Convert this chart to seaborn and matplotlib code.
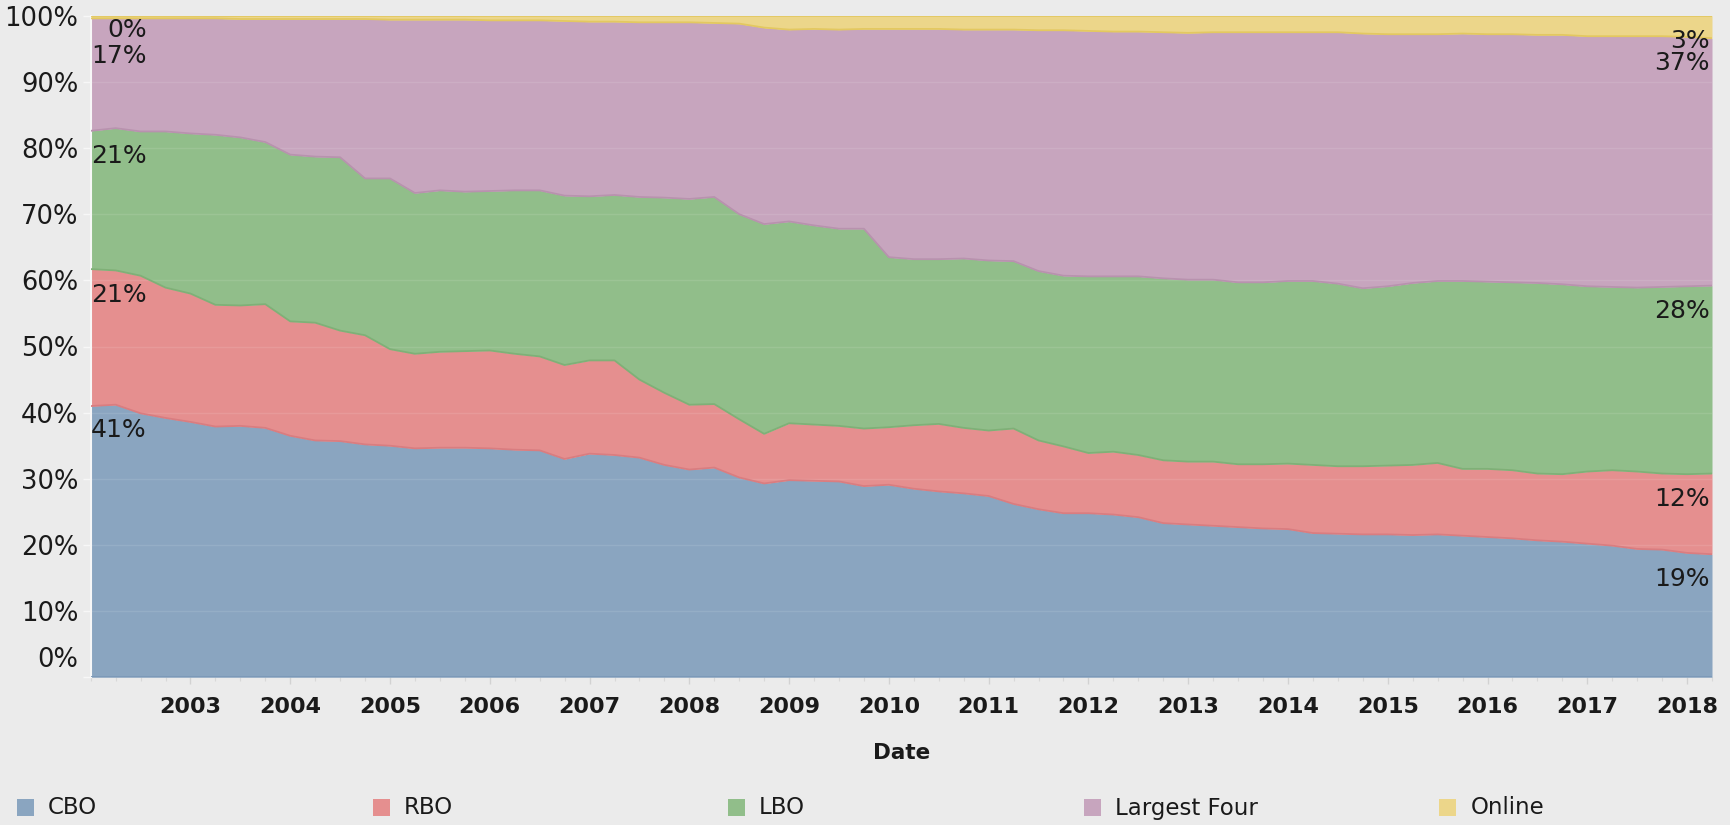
import numpy as np
import pandas as pd
import matplotlib
matplotlib.use("Agg")
import matplotlib.pyplot as plt
import seaborn as sns
from matplotlib.patches import Rectangle
from matplotlib.transforms import ScaledTranslation

# ---------------- data (share of total, %), quarterly 2002 Q1 .. 2018 Q2 ----------------
quarters = pd.period_range("2002Q1", "2018Q2", freq="Q")
categories = ["CBO", "RBO", "LBO", "Largest Four", "Online"]

cbo = [41.0, 41.2, 39.9, 39.2, 38.6, 37.9, 38.0, 37.7, 36.5, 35.8, 35.7,
       35.2, 35.0, 34.6, 34.7, 34.7, 34.6, 34.4, 34.3, 33.0, 33.8, 33.6,
       33.2, 32.1, 31.4, 31.7, 30.2, 29.3, 29.8, 29.7, 29.6, 28.9, 29.1,
       28.5, 28.1, 27.8, 27.4, 26.2, 25.4, 24.8, 24.8, 24.6, 24.2, 23.3,
       23.1, 22.9, 22.7, 22.5, 22.4, 21.8, 21.7, 21.6, 21.6, 21.5, 21.6,
       21.4, 21.2, 21.0, 20.7, 20.5, 20.2, 19.9, 19.4, 19.3, 18.8, 18.6]
rbo = [20.7, 20.3, 20.8, 19.7, 19.4, 18.4, 18.2, 18.7, 17.3, 17.8, 16.7,
       16.5, 14.6, 14.3, 14.5, 14.6, 14.8, 14.5, 14.2, 14.2, 14.1, 14.3,
       11.8, 10.9, 9.8, 9.6, 8.8, 7.5, 8.6, 8.5, 8.4, 8.7, 8.7,
       9.6, 10.2, 9.9, 9.9, 11.4, 10.4, 10.1, 9.1, 9.5, 9.4, 9.5,
       9.5, 9.7, 9.5, 9.7, 9.9, 10.3, 10.2, 10.3, 10.4, 10.6, 10.8,
       10.1, 10.3, 10.3, 10.1, 10.2, 10.9, 11.4, 11.7, 11.5, 11.9, 12.2]
lbo = [20.9, 21.5, 21.8, 23.6, 24.2, 25.7, 25.4, 24.5, 25.2, 25.1, 26.2,
       23.7, 25.8, 24.3, 24.4, 24.1, 24.1, 24.7, 25.1, 25.6, 24.8, 25.0,
       27.6, 29.5, 31.1, 31.3, 31.0, 31.7, 30.5, 30.1, 29.8, 30.2, 25.7,
       25.1, 24.9, 25.6, 25.7, 25.3, 25.6, 25.8, 26.7, 26.5, 27.0, 27.5,
       27.5, 27.5, 27.5, 27.5, 27.6, 27.8, 27.6, 26.9, 27.1, 27.5, 27.5,
       28.4, 28.3, 28.4, 28.8, 28.7, 28.0, 27.7, 27.8, 28.2, 28.4, 28.4]
largest_four = [17.0, 16.6, 17.1, 17.1, 17.4, 17.6, 17.9, 18.6, 20.5, 20.8, 20.9,
                24.1, 24.0, 26.2, 25.8, 26.0, 25.8, 25.7, 25.7, 26.4, 26.4, 26.2,
                26.4, 26.5, 26.7, 26.3, 28.8, 29.7, 29.0, 29.7, 30.1, 30.2, 34.5,
                34.8, 34.8, 34.6, 34.9, 35.0, 36.4, 37.1, 37.1, 37.0, 37.0, 37.2,
                37.3, 37.4, 37.8, 37.8, 37.6, 37.6, 38.0, 38.5, 38.1, 37.6, 37.3,
                37.4, 37.4, 37.5, 37.5, 37.7, 37.8, 37.9, 38.0, 37.9, 37.7, 37.4]
online = [0.4, 0.4, 0.4, 0.4, 0.4, 0.4, 0.5, 0.5, 0.5, 0.5, 0.5,
          0.5, 0.6, 0.6, 0.6, 0.6, 0.7, 0.7, 0.7, 0.8, 0.9, 0.9,
          1.0, 1.0, 1.0, 1.1, 1.2, 1.8, 2.1, 2.0, 2.1, 2.0, 2.0,
          2.0, 2.0, 2.1, 2.1, 2.1, 2.2, 2.2, 2.3, 2.4, 2.4, 2.5,
          2.6, 2.5, 2.5, 2.5, 2.5, 2.5, 2.5, 2.7, 2.8, 2.8, 2.8,
          2.7, 2.8, 2.8, 2.9, 2.9, 3.1, 3.1, 3.1, 3.1, 3.2, 3.4]

year_ticks = list(range(2003, 2019))
y_ticks = list(range(0, 101, 10))

# ---------------- style ----------------
BG = "#ebebeb"
fill_colors = ["#8aa5c0", "#e58f8f", "#91be8a", "#c7a5be", "#ecd68a"]
edge_colors = ["#7b98b8", "#d97d80", "#7fb077", "#b892ae", "#e3c860"]
TXT = "#1a1a1a"

sns.set_theme(style="white", rc={"axes.facecolor": BG, "figure.facecolor": BG})
plt.rcParams["font.family"] = ["DejaVu Sans"]

fig = plt.figure(figsize=(17.31, 8.25), dpi=100)
ax = fig.add_axes([90.7 / 1731, 1 - 677.3 / 825, (1712 - 90.7) / 1731, (677.3 - 15.7) / 825])
ax.set_facecolor(BG)

# ---------------- data frame ----------------
x = np.array([q.year + (q.quarter - 1) / 4 for q in quarters])
df = pd.DataFrame({"CBO": cbo, "RBO": rbo, "LBO": lbo,
                   "Largest Four": largest_four, "Online": online}, index=x)
df = df.div(df.sum(axis=1), axis=0) * 100  # percent of total
cum = df.cumsum(axis=1)

lower = np.zeros(len(x))
for i, cat in enumerate(categories):
    upper = cum[cat].values
    ax.fill_between(x, lower, upper, color=fill_colors[i], lw=0, zorder=2)
    lower = upper

# band outlines (each band's lower edge drawn in its own darker colour)
for i, cat in enumerate(categories):
    base = np.zeros(len(x)) if i == 0 else cum[categories[i - 1]].values
    sns.lineplot(x=x, y=base, color=edge_colors[i], lw=1.3, ax=ax, zorder=3,
                 legend=False, estimator=None)
sns.lineplot(x=x, y=cum["Online"].values, color=edge_colors[4], lw=1.3, ax=ax,
             zorder=3, legend=False, estimator=None)

# faint gridlines showing through the areas
for t in y_ticks[1:-1]:
    ax.axhline(t, color="white", alpha=0.10, lw=1.0, zorder=2.5)

# ---------------- axes ----------------
ax.set_xlim(x[0], x[-1])
ax.set_ylim(0, 100)
ax.set_yticks(y_ticks)
ax.set_yticklabels([f"{t}%" for t in y_ticks])
ax.set_xticks(year_ticks)
ax.set_xticklabels([str(y) for y in year_ticks])
ax.set_xticks(x, minor=True)

ax.tick_params(axis="y", which="major", length=6, width=1, color="#f7f7f7",
               pad=3, labelsize=18.5, labelcolor=TXT, left=True)
ax.tick_params(axis="x", which="major", length=5, width=1, color="#d2d2d2",
               pad=9, labelsize=16, labelcolor=TXT, bottom=True)
ax.tick_params(axis="x", which="minor", length=3, width=0.8, color="#d8d8d8", bottom=True)
for lab in ax.get_xticklabels():
    lab.set_fontweight("bold")

# 0% label sits just above the baseline
for lab in ax.get_yticklabels():
    if lab.get_text() == "0%":
        lab.set_verticalalignment("bottom")
        lab.set_transform(lab.get_transform() + ScaledTranslation(0, 0.045, fig.dpi_scale_trans))

for s in ["top", "right", "bottom"]:
    ax.spines[s].set_visible(False)
ax.spines["left"].set_color("#f7f7f7")
ax.spines["left"].set_linewidth(1.5)

ax.set_xlabel("Date", fontsize=15.5, fontweight="bold", color=TXT)
ax.xaxis.set_label_coords(0.5, (677.3 - 753) / 661.6)
ax.xaxis.label.set_verticalalignment("center")
ax.set_ylabel("")

# ---------------- start / end labels ----------------
start_offsets = [24, 26, 25, 38, 14]
for i, cat in enumerate(categories):
    top = cum[cat].iloc[0]
    ax.annotate(f"{df[cat].iloc[0]:.0f}%", xy=(x[0], top), xytext=(56, -start_offsets[i]),
                textcoords="offset pixels", ha="right", va="center",
                fontsize=18, color=TXT, zorder=5)
for i, cat in enumerate(categories):
    top = cum[cat].iloc[-1]
    ax.annotate(f"{df[cat].iloc[-1]:.0f}%", xy=(x[-1], top), xytext=(-2, -25),
                textcoords="offset pixels", ha="right", va="center",
                fontsize=18, color=TXT, zorder=5)

# ---------------- legend (bottom row) ----------------
W, H = 1731, 825
for i, cat in enumerate(categories):
    x0 = 17 + 355.6 * i
    fig.patches.append(Rectangle((x0 / W, (H - 816) / H), 17 / W, 17 / H,
                                 transform=fig.transFigure, facecolor=fill_colors[i],
                                 edgecolor="none"))
    fig.text((x0 + 31) / W, (H - 808) / H, cat, ha="left", va="center",
             fontsize=16.5, color=TXT)

fig.savefig("out.png", dpi=100, facecolor=BG)
